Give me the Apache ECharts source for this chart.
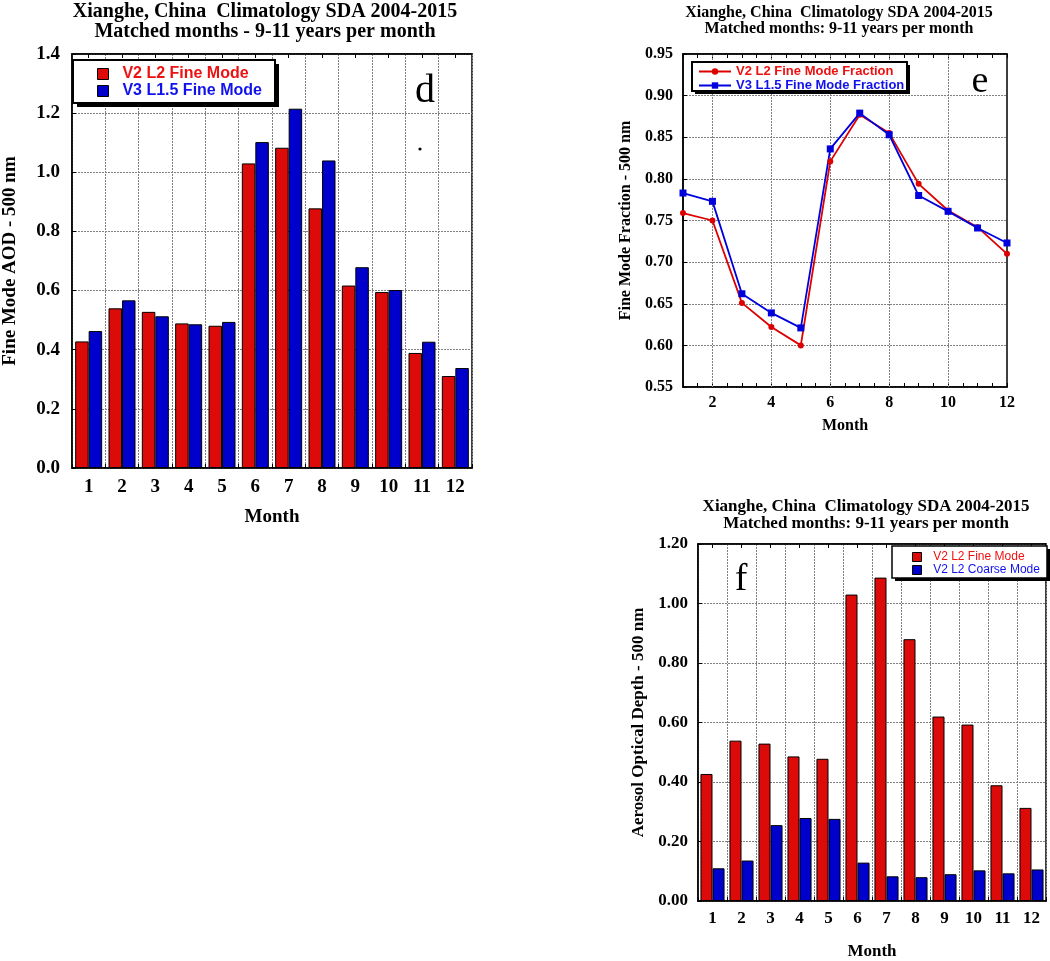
<!DOCTYPE html>
<html><head><meta charset="utf-8">
<script src="https://cdn.jsdelivr.net/npm/echarts@6/dist/echarts.min.js"></script>
<style>html,body{margin:0;padding:0;background:#fff}#c{width:1050px;height:961px}</style>
</head><body><div id="c"></div>
<script>
const months = ['1','2','3','4','5','6','7','8','9','10','11','12'];
const monthNums = [1,2,3,4,5,6,7,8,9,10,11,12];
const dV2Fine = [0.428,0.540,0.528,0.489,0.481,1.030,1.083,0.878,0.617,0.595,0.389,0.311];
const dV3Fine = [0.463,0.567,0.513,0.486,0.494,1.102,1.215,1.040,0.679,0.602,0.427,0.338];
const eV2FMF = [0.759,0.750,0.651,0.622,0.600,0.821,0.877,0.855,0.794,0.762,0.742,0.710];
const eV3FMF = [0.783,0.773,0.662,0.639,0.621,0.836,0.879,0.853,0.780,0.761,0.741,0.723];
const fFine = [0.427,0.539,0.529,0.486,0.478,1.030,1.087,0.880,0.620,0.593,0.389,0.313];
const fCoarse = [0.110,0.136,0.255,0.279,0.276,0.129,0.083,0.080,0.090,0.103,0.093,0.106];
const eGridMonths = [2,4,6,8,10];

const SERIF = '"Liberation Serif","Times New Roman",serif';
const SANS = '"Liberation Sans",Arial,sans-serif';
const RED = '#dd0a0a', BLUE = '#0000cc';
const gridLine = {show:true, lineStyle:{color:'#808080', type:[2,1], width:1}};
const axLine = {show:true, lineStyle:{color:'#000', width:1.5}};
const tick = {show:true, inside:true, length:4, lineStyle:{color:'#000'}};

function yAx(gi, min, max, step, dec, name, fs, gap, margin){
  return {type:'value', gridIndex:gi, min:min, max:max, interval:step,
    name:name, nameLocation:'middle', nameGap:gap, nameRotate:90,
    nameTextStyle:{fontFamily:SERIF, fontWeight:'bold', fontSize:fs, color:'#000'},
    axisLine:axLine, axisTick:tick,
    axisLabel:{fontFamily:SERIF, fontWeight:'bold', fontSize:fs, color:'#000', margin:margin,
      formatter:v=>v.toFixed(dec)},
    splitLine:gridLine};
}
function xCat(gi, fs, gap, margin){
  return {type:'category', gridIndex:gi, data:months, boundaryGap:true,
    name:'Month', nameLocation:'middle', nameGap:gap,
    nameTextStyle:{fontFamily:SERIF, fontWeight:'bold', fontSize:fs, color:'#000'},
    axisLine:axLine, axisTick:tick,
    axisLabel:{fontFamily:SERIF, fontWeight:'bold', fontSize:fs, color:'#000', margin:margin},
    splitLine:{show:true, interval:0, lineStyle:{color:'#808080', type:[2,1], width:1}}};
}
function xCatTop(gi){
  return {type:'category', gridIndex:gi, data:months, position:'top', boundaryGap:true,
    axisLine:axLine, axisTick:{show:true, inside:true, length:4, alignWithLabel:true, lineStyle:{color:'#000'}},
    axisLabel:{show:false}, splitLine:{show:false}};
}
function legendBox(x, y, w, h, off, lw){
  return [
    {type:'rect', z:3, shape:{x:x+off, y:y+off, width:w, height:h}, style:{fill:'#000'}},
    {type:'rect', z:3, shape:{x:x, y:y, width:w, height:h}, style:{fill:'#fff', stroke:'#000', lineWidth:lw}}
  ];
}

const chart = echarts.init(document.getElementById('c'), null, {renderer:'canvas'});
chart.setOption({
  animation:false,
  backgroundColor:'#fff',
  grid:[
    {left:70, top:54, width:402, height:414, show:true, borderColor:'#000', borderWidth:1.5, backgroundColor:'#fff'},
    {left:683, top:54, width:324, height:333, show:true, borderColor:'#000', borderWidth:1.5, backgroundColor:'#fff'},
    {left:698, top:544, width:348, height:357, show:true, borderColor:'#000', borderWidth:1.5, backgroundColor:'#fff'}
  ],
  xAxis:[
    xCat(0, 19, 40, 10),
    {type:'value', gridIndex:1, min:1, max:12, interval:1,
      name:'Month', nameLocation:'middle', nameGap:31,
      nameTextStyle:{fontFamily:SERIF, fontWeight:'bold', fontSize:16, color:'#000'},
      axisLine:axLine, axisTick:tick,
      minorTick:{show:true, splitNumber:2, length:4, lineStyle:{color:'#000'}},
      axisLabel:{fontFamily:SERIF, fontWeight:'bold', fontSize:16, color:'#000', margin:8,
        formatter:v=>(v%2===0 ? String(v) : '')},
      splitLine:{show:false}},
    xCat(2, 17, 42, 9),
    xCatTop(0),
    {type:'value', gridIndex:1, min:1, max:12, interval:1, position:'top',
      axisLine:axLine, axisTick:tick,
      minorTick:{show:true, splitNumber:2, length:4, lineStyle:{color:'#000'}},
      axisLabel:{show:false}, splitLine:{show:false}},
    xCatTop(2)
  ],
  yAxis:[
    yAx(0, 0, 1.4, 0.2, 1, 'Fine Mode AOD - 500 nm', 19, 52, 12),
    yAx(1, 0.55, 0.95, 0.05, 2, 'Fine Mode Fraction - 500 nm', 16, 49, 10),
    yAx(2, 0, 1.2, 0.2, 2, 'Aerosol Optical Depth - 500 nm', 17, 51, 10)
  ],
  legend:[
    {orient:'vertical', left:97, top:66, itemWidth:11, itemHeight:11, itemGap:1, padding:0, z:5,
      icon:'rect', formatter:'  {name}', selectedMode:false,
      itemStyle:{borderColor:'#000', borderWidth:1},
      textStyle:{fontFamily:SANS, fontWeight:'bold', fontSize:16, lineHeight:15},
      data:[{name:'V2 L2 Fine Mode', textStyle:{color:'#ee1111'}},
            {name:'V3 L1.5 Fine Mode', textStyle:{color:'#1111ee'}}]},
    {orient:'vertical', left:698, top:65, itemWidth:32, itemHeight:8, itemGap:1, padding:0, z:5,
      selectedMode:false,
      textStyle:{fontFamily:SANS, fontWeight:'bold', fontSize:13, lineHeight:11},
      data:[{name:'V2 L2 Fine Mode Fraction', textStyle:{color:'#ee1111'}},
            {name:'V3 L1.5 Fine Mode Fraction', textStyle:{color:'#1111ee'}}]},
    {orient:'vertical', left:912, top:551, itemWidth:9, itemHeight:9, itemGap:1, padding:0, z:5,
      icon:'rect', formatter:'  {name}', selectedMode:false,
      itemStyle:{borderColor:'#000', borderWidth:1},
      textStyle:{fontFamily:SANS, fontSize:12, lineHeight:11},
      data:[{name:'V2 L2 Fine Mode', textStyle:{color:'#ee1111'}},
            {name:'V2 L2 Coarse Mode', textStyle:{color:'#1111ee'}}]}
  ],
  series:[
    {name:'V2 L2 Fine Mode', type:'bar', xAxisIndex:0, yAxisIndex:0, data:dV2Fine,
      barGap:'0%', barCategoryGap:'19%', itemStyle:{color:RED, borderColor:'#000', borderWidth:1}},
    {name:'V3 L1.5 Fine Mode', type:'bar', xAxisIndex:0, yAxisIndex:0, data:dV3Fine,
      barGap:'0%', barCategoryGap:'19%', itemStyle:{color:BLUE, borderColor:'#000', borderWidth:1}},
    {name:'gridE', type:'line', xAxisIndex:1, yAxisIndex:1, data:[], z:1, silent:true,
      markLine:{silent:true, z:1, symbol:'none', label:{show:false},
        lineStyle:{color:'#808080', type:[2,1], width:1},
        data:eGridMonths.map(m=>({xAxis:m}))}},
    {name:'V2 L2 Fine Mode Fraction', type:'line', xAxisIndex:1, yAxisIndex:1,
      data:monthNums.map((m,i)=>[m,eV2FMF[i]]), symbol:'circle', symbolSize:6,
      lineStyle:{color:'#dd0000', width:1.8}, itemStyle:{color:'#dd0000'}},
    {name:'V3 L1.5 Fine Mode Fraction', type:'line', xAxisIndex:1, yAxisIndex:1,
      data:monthNums.map((m,i)=>[m,eV3FMF[i]]), symbol:'rect', symbolSize:7,
      lineStyle:{color:'#0000dd', width:1.8}, itemStyle:{color:'#0000dd'}},
    {name:'V2 L2 Fine Mode', type:'bar', xAxisIndex:2, yAxisIndex:2, data:fFine,
      barGap:'0%', barCategoryGap:'17%', itemStyle:{color:RED, borderColor:'#000', borderWidth:1}},
    {name:'V2 L2 Coarse Mode', type:'bar', xAxisIndex:2, yAxisIndex:2, data:fCoarse,
      barGap:'0%', barCategoryGap:'17%', itemStyle:{color:BLUE, borderColor:'#000', borderWidth:1}}
  ],
  graphic:[].concat(
    legendBox(73, 60, 202, 43, 4, 2),
    legendBox(692, 62, 215, 29, 3, 2),
    legendBox(892, 546, 155, 32, 3, 1.5),
    [
    {type:'text', x:265, y:2, style:{text:'Xianghe, China  Climatology SDA 2004-2015\nMatched months - 9-11 years per month',
      textAlign:'center', textVerticalAlign:'top', font:'bold 20px '+SERIF, lineHeight:20, fill:'#000'}},
    {type:'text', x:839, y:5, style:{text:'Xianghe, China  Climatology SDA 2004-2015\nMatched months: 9-11 years per month',
      textAlign:'center', textVerticalAlign:'top', font:'bold 16px '+SERIF, lineHeight:16, fill:'#000'}},
    {type:'text', x:866, y:498, style:{text:'Xianghe, China  Climatology SDA 2004-2015\nMatched months: 9-11 years per month',
      textAlign:'center', textVerticalAlign:'top', font:'bold 17px '+SERIF, lineHeight:17, fill:'#000'}},
    {type:'text', x:425, y:91, z:100, style:{text:'d', textAlign:'center', textVerticalAlign:'middle', font:'40px '+SERIF, fill:'#000'}},
    {type:'circle', shape:{cx:420, cy:149, r:1.6}, z:100, style:{fill:'#000'}},
    {type:'text', x:980, y:82, z:100, style:{text:'e', textAlign:'center', textVerticalAlign:'middle', font:'38px '+SERIF, fill:'#000'}},
    {type:'text', x:741, y:580, z:100, style:{text:'f', textAlign:'center', textVerticalAlign:'middle', font:'38px '+SERIF, fill:'#000'}}
    ])
});
</script></body></html>
